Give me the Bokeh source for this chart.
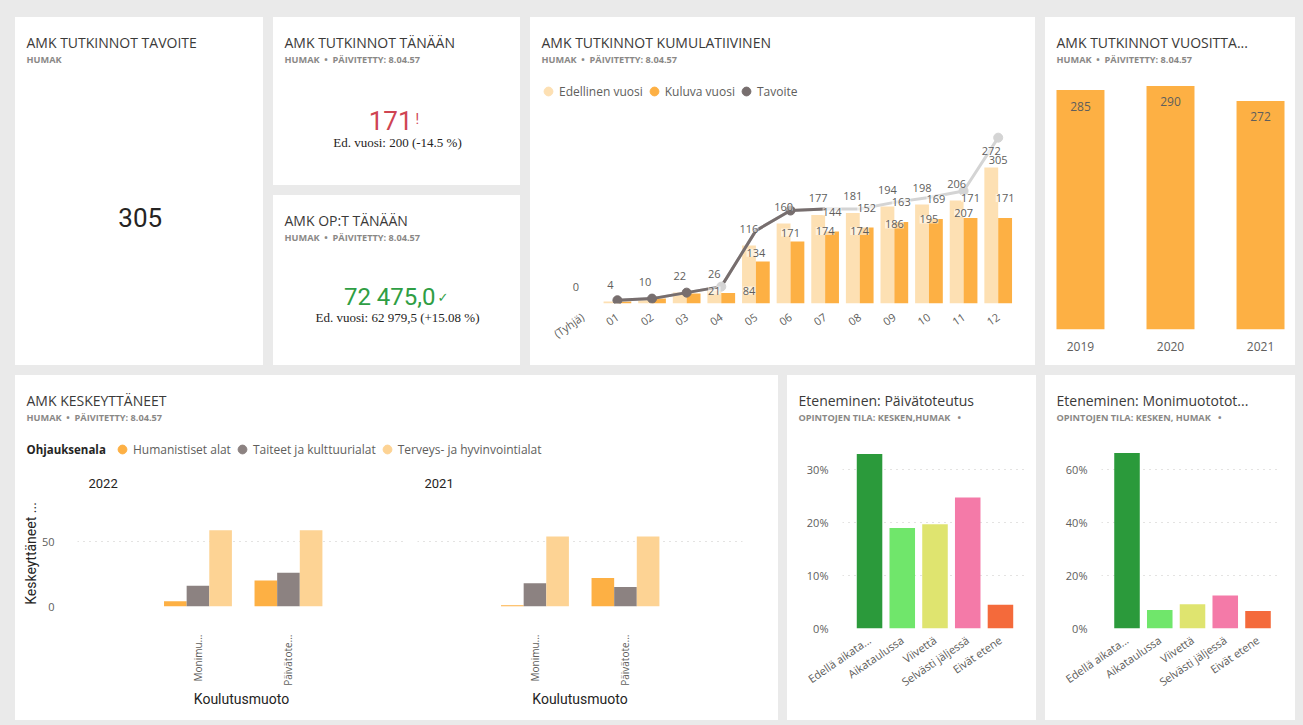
import math
import numpy as np
from bokeh.plotting import figure
from bokeh.models import (Range1d, ColumnDataSource, LabelSet, Legend, LegendItem,
                          FixedTicker, NumeralTickFormatter)
from bokeh.layouts import row, column
from bokeh.core.properties import value
from bokeh.embed import file_html
from bokeh.resources import INLINE

# ---------------- data ----------------
organisaatio = "HUMAK"
paivitetty = "8.04.57"

tavoite_vuosi = 305
tutkinnot_tanaan = 171
tutkinnot_ed_vuosi = 200
op_tanaan = 72475.0
op_ed_vuosi = 62979.5

kuukaudet = ["(Tyhjä)", "01", "02", "03", "04", "05", "06", "07", "08", "09", "10", "11", "12"]
edellinen_vuosi = [0, 4, 10, 22, 26, 116, 160, 177, 181, 194, 198, 206, 272]
kuluva_vuosi = [0, 4, 10, 20, 21, 84, 124, 144, 152, 163, 169, 171, 171]
tavoite = [np.nan, 6, 9, 20, 31, 134, 171, 174, 174, 186, 195, 207, 305]
# data labels that the report shows
kuluva_label_above = ["07", "08", "09", "10", "11", "12"]
kuluva_label_inside = ["04", "05"]
tavoite_label_kk = ["05", "06", "07", "08", "09", "10", "11", "12"]

vuodet = [2019, 2020, 2021]
tutkinnot_vuosittain = [285, 290, 272]

koulutusmuodot = ["Monimu...", "Päivätote..."]
ohjausalat = ["Humanistiset alat", "Taiteet ja kulttuurialat", "Terveys- ja hyvinvointialat"]
kesk_2022_hum = [4, 20]
kesk_2022_tai = [16, 26]
kesk_2022_ter = [59, 59]
kesk_2021_hum = [1, 22]
kesk_2021_tai = [18, 15]
kesk_2021_ter = [54, 54]

tilat = ["Edellä aikata...", "Aikataulussa", "Viivettä", "Selvästi jäljessä", "Eivät etene"]
osuus_paiva = [0.330, 0.190, 0.197, 0.248, 0.045]
osuus_monimuoto = [0.664, 0.070, 0.092, 0.125, 0.066]

# ---------------- style ----------------
BG = "#eaeaea"
DARK = "#252423"
TITLEC = "#3b3a39"
SUBC = "#8a8886"
AXC = "#605e5c"
ORANGE = "#fdb044"
PEACH = "#fdd394"
PEACH_L = "#fde0b3"
GRAY = "#8c8281"
LINE_D = "#776e6e"
LINE_L = "#d4d4d4"
RED = "#cf4452"
GREEN = "#2f9e44"
TILA_COLORS = ["#2b9a3b", "#70e66b", "#dfe46f", "#f47aa8", "#f46a3b"]
UI = "Open Sans"
DIN = "Roboto"
SERIF = "Liberation Serif"
NB = "\u00a0"


def fi_num(v):
    return f"{v:,.1f}".replace(",", " ").replace(".", ",")


def base_fig(w, h, **kw):
    p = figure(width=w, height=h, output_backend="svg", toolbar_location=None, title=None, **kw)
    p.outline_line_color = None
    p.background_fill_color = "white"
    p.border_fill_color = "white"
    return p


def panel(w, h):
    return base_fig(w, h, x_range=Range1d(0, w), y_range=Range1d(h, 0),
                    x_axis_type=None, y_axis_type=None, min_border=0)


def put(p, x, y, s, size, color=DARK, font=UI, style="normal", align="left"):
    p.text(x=[x], y=[y], text=[s], text_font=value(font), text_font_size=value(size),
           text_color=color, text_font_style=style, text_align=align, text_baseline="middle")


def header(p, title, subtitle):
    put(p, 11, 24.5, title, "14px", TITLEC, UI)
    put(p, 11, 41.5, subtitle, "9.2px", SUBC, UI, "bold")


def add_legend(p, entries, vx, vy):
    items = []
    for label, color in entries:
        r = p.scatter(x=[np.nan], y=[np.nan], marker="circle", fill_color=color, line_color=color)
        items.append(LegendItem(label=value(label), renderers=[r]))
    leg = Legend(items=items, location=(vx, vy), orientation="horizontal",
                 border_line_color=None, background_fill_alpha=0, padding=0, spacing=0,
                 margin=0, glyph_width=22, glyph_height=22, label_height=22, label_standoff=0,
                 label_text_font=UI, label_text_font_size="12px", label_text_color=AXC)
    p.add_layout(leg)


def style_axis(ax, size="11px"):
    ax.axis_line_color = None
    ax.major_tick_line_color = None
    ax.minor_tick_line_color = None
    ax.major_label_text_font = UI
    ax.major_label_text_font_size = size
    ax.major_label_text_color = AXC


def card(*children):
    # a plot wrapped in its own column is not frame-aligned with its neighbours
    kids = [column(c) if hasattr(c, "renderers") else c for c in children]
    return column(*kids, spacing=0, styles={"background-color": "white"})


sub_pv = f"{organisaatio}{NB}{NB}•{NB}{NB}PÄIVITETTY: {paivitetty}"

# ---------------- card 1: tavoite ----------------
k1 = panel(248, 348)
header(k1, "AMK TUTKINNOT TAVOITE", organisaatio)
put(k1, 124.7, 199.7, str(tavoite_vuosi), "26px", DARK, DIN, align="center")

# ---------------- card 2: tutkinnot tänään ----------------
k2 = panel(247, 168)
header(k2, "AMK TUTKINNOT TÄNÄÄN", sub_pv)
put(k2, 139, 103, str(tutkinnot_tanaan), "26px", RED, DIN, align="right")
put(k2, 142, 101.5, "!", "14px", RED, DIN)
muutos1 = (tutkinnot_tanaan - tutkinnot_ed_vuosi) / tutkinnot_ed_vuosi * 100
put(k2, 124, 124.7, f"Ed. vuosi: {tutkinnot_ed_vuosi} ({muutos1:.1f} %)", "13px", DARK, SERIF, align="center")

# ---------------- card 3: op:t tänään ----------------
k3 = panel(247, 170)
header(k3, "AMK OP:T TÄNÄÄN", sub_pv)
put(k3, 162, 101.7, fi_num(op_tanaan), "24px", GREEN, DIN, align="right")
put(k3, 164, 102, "✓", "13px", GREEN, "DejaVu Sans")
muutos2 = (op_tanaan - op_ed_vuosi) / op_ed_vuosi * 100
put(k3, 124, 121.7, f"Ed. vuosi: {fi_num(op_ed_vuosi)} (+{muutos2:.2f} %)", "13px", DARK, SERIF, align="center")

# ---------------- card 4: kumulatiivinen ----------------
h4 = panel(505, 93)
header(h4, "AMK TUTKINNOT KUMULATIIVINEN", sub_pv)
add_legend(h4, [("Edellinen vuosi", PEACH_L), ("Kuluva vuosi", ORANGE), ("Tavoite", LINE_D)], 7, 8)

n = len(kuukaudet)
xi = list(range(n))
c4 = base_fig(505, 255, x_range=Range1d(-0.5, n - 0.5), y_range=Range1d(0, 386),
              y_axis_location=None, min_border_left=35, min_border_right=20,
              min_border_top=0, min_border_bottom=62)
c4.extra_y_ranges = {"tav": Range1d(0, 355)}
c4.ygrid.visible = False
c4.xgrid.visible = False
src4 = ColumnDataSource(dict(xp=[i - 0.2 for i in xi], xc=[i + 0.2 for i in xi],
                             ed=edellinen_vuosi, ku=kuluva_vuosi))
c4.vbar(x="xp", top="ed", width=0.4, fill_color=PEACH_L, line_color=None, source=src4)
c4.vbar(x="xc", top="ku", width=0.4, fill_color=ORANGE, line_color=None, source=src4)

tav = np.array(tavoite, dtype=float)
c4.line(x=xi, y=tav, line_color=LINE_L, line_width=3, y_range_name="tav")
dark_end = kuukaudet.index("07") + 1
c4.line(x=xi[:dark_end], y=tav[:dark_end], line_color=LINE_D, line_width=3, y_range_name="tav")
dark_pts = [kuukaudet.index(m) for m in ["01", "02", "03", "06"]]
light_pts = [kuukaudet.index(m) for m in ["04", "11", "12"]]
c4.scatter(x=[xi[i] for i in dark_pts], y=[tav[i] for i in dark_pts], size=9,
           fill_color=LINE_D, line_color=LINE_D, y_range_name="tav")
c4.scatter(x=[xi[i] for i in light_pts], y=[tav[i] for i in light_pts], size=9,
           fill_color=LINE_L, line_color=LINE_L, y_range_name="tav")

lab_kw = dict(text_align="center", text_baseline="middle", text_font=value(UI),
              text_font_size=value("11px"), text_color=AXC,
              background_fill_color="white", background_fill_alpha=0.55)
s_ed = ColumnDataSource(dict(x=[i - 0.2 for i in xi], y=edellinen_vuosi,
                             t=[str(v) for v in edellinen_vuosi]))
c4.add_layout(LabelSet(x="x", y="y", text="t", source=s_ed, y_offset=17, **lab_kw))
ia = [kuukaudet.index(m) for m in kuluva_label_above]
s_ka = ColumnDataSource(dict(x=[i + 0.2 for i in ia], y=[kuluva_vuosi[i] for i in ia],
                             t=[str(kuluva_vuosi[i]) for i in ia]))
c4.add_layout(LabelSet(x="x", y="y", text="t", source=s_ka, y_offset=20, **lab_kw))
ii = [kuukaudet.index(m) for m in kuluva_label_inside]
s_ki = ColumnDataSource(dict(x=[i - 0.2 for i in ii], y=[0 for i in ii],
                             t=[str(kuluva_vuosi[i]) for i in ii]))
c4.add_layout(LabelSet(x="x", y="y", text="t", source=s_ki, y_offset=13, **lab_kw))
it = [kuukaudet.index(m) for m in tavoite_label_kk]
s_t = ColumnDataSource(dict(x=it, y=[tavoite[i] for i in it], t=[str(int(tavoite[i])) for i in it]))
c4.add_layout(LabelSet(x="x", y="y", text="t", source=s_t, y_offset=-22, y_range_name="tav", **lab_kw))

style_axis(c4.xaxis[0], "11px")
c4.xaxis.ticker = FixedTicker(ticks=xi)
c4.xaxis.major_label_overrides = {i: m for i, m in enumerate(kuukaudet)}
c4.xaxis.major_label_orientation = 0.6
c4.xaxis.major_label_standoff = 6

# ---------------- card 5: vuosittain ----------------
h5 = panel(250, 63)
header(h5, "AMK TUTKINNOT VUOSITTA...", sub_pv)
c5 = base_fig(250, 285, x_range=Range1d(2018.667, 2021.333), y_range=Range1d(0, 296.4),
              y_axis_location=None, min_border_left=5, min_border_right=5,
              min_border_top=0, min_border_bottom=36)
c5.grid.visible = False
src5 = ColumnDataSource(dict(x=vuodet, y=tutkinnot_vuosittain, t=[str(v) for v in tutkinnot_vuosittain]))
c5.vbar(x="x", top="y", width=0.533, fill_color=ORANGE, line_color=None, source=src5)
c5.add_layout(LabelSet(x="x", y="y", text="t", source=src5, y_offset=-16, text_align="center",
                       text_baseline="middle", text_font=value(UI), text_font_size=value("12px"),
                       text_color=AXC))
style_axis(c5.xaxis[0], "12px")
c5.xaxis.ticker = FixedTicker(ticks=vuodet)
c5.xaxis.major_label_standoff = 6

# ---------------- card 6: keskeyttäneet ----------------
h6 = panel(763, 125)
header(h6, "AMK KESKEYTTÄNEET", sub_pv)
put(h6, 11, 74, "Ohjauksenala", "11.5px", DARK, UI, "bold")
add_legend(h6, [(ohjausalat[0], ORANGE), (ohjausalat[1], GRAY), (ohjausalat[2], PEACH)], 96, 40)
put(h6, 73, 108, "2022", "13px", DARK, DIN)
put(h6, 409, 108, "2021", "13px", DARK, DIN)


def kesk_chart(w, lb, rb, xr, hum, tai, ter, show_y):
    p = base_fig(w, 220, x_range=Range1d(*xr), y_range=Range1d(0, 81.9),
                 y_axis_location="left" if show_y else None,
                 min_border_left=lb, min_border_right=rb, min_border_top=0, min_border_bottom=114)
    k = list(range(len(koulutusmuodot)))
    for off, vals, col in [(-0.25, hum, ORANGE), (0.0, tai, GRAY), (0.25, ter, PEACH)]:
        p.vbar(x=[i + off for i in k], top=vals, width=0.25, fill_color=col, line_color=None)
    p.xgrid.visible = False
    p.ygrid.ticker = FixedTicker(ticks=[0, 50])
    p.ygrid.grid_line_color = "#c8c6c4"
    p.ygrid.grid_line_dash = "1 5"
    ax = p.xaxis[0]
    style_axis(ax, "10px")
    ax.ticker = FixedTicker(ticks=k)
    ax.major_label_overrides = {i: s for i, s in enumerate(koulutusmuodot)}
    ax.major_label_orientation = math.pi / 2
    ax.major_label_standoff = 22
    ax.axis_label = "Koulutusmuoto"
    ax.axis_label_text_font = DIN
    ax.axis_label_text_font_size = "14px"
    ax.axis_label_text_font_style = "normal"
    ax.axis_label_text_color = DARK
    ax.axis_label_standoff = 2
    if show_y:
        ay = p.yaxis[0]
        style_axis(ay, "11px")
        ay.ticker = FixedTicker(ticks=[0, 50])
        ay.major_label_standoff = 17
        ay.axis_label = "Keskeyttäneet ..."
        ay.axis_label_text_font = DIN
        ay.axis_label_text_font_size = "14px"
        ay.axis_label_text_font_style = "normal"
        ay.axis_label_text_color = DARK
        ay.axis_label_standoff = 0
    return p


c6a = kesk_chart(396, 62, 6, (-1.331, 2.293), kesk_2022_hum, kesk_2022_tai, kesk_2022_ter, True)
c6b = kesk_chart(367, 6, 36, (-1.298, 2.293), kesk_2021_hum, kesk_2021_tai, kesk_2021_ter, False)

# ---------------- cards 7 & 8: eteneminen ----------------


def eten_chart(w, lb, rb, xr, vals, ymax, ticks):
    p = base_fig(w, 277, x_range=Range1d(*xr), y_range=Range1d(0, ymax),
                 min_border_left=lb, min_border_right=rb, min_border_top=0, min_border_bottom=92)
    k = list(range(len(tilat)))
    p.vbar(x=k, top=vals, width=0.78, fill_color=TILA_COLORS, line_color=None)
    p.xgrid.visible = False
    p.ygrid.grid_line_color = "#c8c6c4"
    p.ygrid.grid_line_dash = "1 5"
    ay = p.yaxis[0]
    style_axis(ay, "11px")
    ay.ticker = FixedTicker(ticks=ticks)
    ay.formatter = NumeralTickFormatter(format="0%")
    ay.major_label_standoff = 8
    ax = p.xaxis[0]
    style_axis(ax, "11px")
    ax.ticker = FixedTicker(ticks=k)
    ax.major_label_overrides = {i: s for i, s in enumerate(tilat)}
    ax.major_label_orientation = 0.6
    ax.major_label_standoff = 4
    return p


h7 = panel(249, 68)
header(h7, "Eteneminen: Päivätoteutus", f"OPINTOJEN TILA: KESKEN,HUMAK{NB}{NB}{NB}•")
c7 = eten_chart(249, 55, 11, (-0.826, 4.765), osuus_paiva, 0.35, [0, 0.1, 0.2, 0.3])

h8 = panel(250, 68)
header(h8, "Eteneminen: Monimuototot...", f"OPINTOJEN TILA: KESKEN, HUMAK{NB}{NB}{NB}•")
c8 = eten_chart(250, 56, 15, (-0.779, 4.687), osuus_monimuoto, 0.70, [0, 0.2, 0.4, 0.6])

# ---------------- layout ----------------
top = row(card(k1), column(card(k2), card(k3), spacing=10), card(h4, c4), card(h5, c5),
          spacing=10, margin=(17, 8, 0, 15))
bottom = row(card(h6, row(c6a, c6b, spacing=0, styles={"background-color": "white"})),
             card(h7, c7), card(h8, c8), spacing=9, margin=(0, 8, 5, 15))
page = column(top, bottom, spacing=10, styles={"background-color": BG})

open("out.html", "w", encoding="utf-8").write(file_html(page, INLINE))
